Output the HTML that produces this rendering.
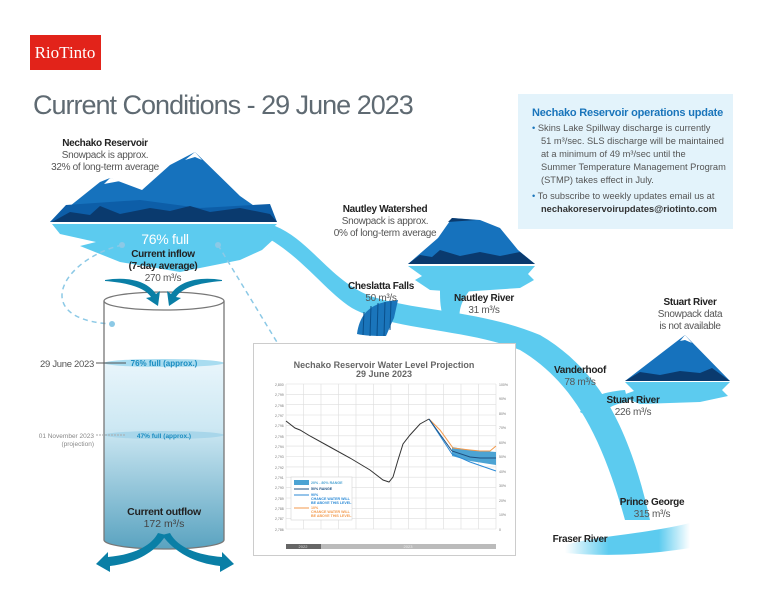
<!DOCTYPE html>
<html><head><meta charset="utf-8"><style>
html,body{margin:0;padding:0;background:#fff;}
svg{display:block;font-family:"Liberation Sans",sans-serif;}
</style></head><body>
<svg width="768" height="593" viewBox="0 0 768 593" xmlns="http://www.w3.org/2000/svg">
<defs>
<linearGradient id="wat" x1="0" y1="0" x2="0" y2="1">
<stop offset="0" stop-color="#e8f5fb"/><stop offset="0.35" stop-color="#cde8f3"/><stop offset="1" stop-color="#5aa3c0"/></linearGradient>
<linearGradient id="fr" x1="0" y1="0" x2="1" y2="0">
<stop offset="0" stop-color="#5ccbef" stop-opacity="0"/><stop offset="0.35" stop-color="#5ccbef"/><stop offset="0.75" stop-color="#5ccbef"/><stop offset="1" stop-color="#5ccbef" stop-opacity="0"/></linearGradient>
</defs>
<rect x="30" y="35" width="71" height="35" fill="#e2231a"/>
<text x="65" y="58" font-family="Liberation Serif,serif" font-size="17" fill="#fff" text-anchor="middle">RioTinto</text>
<text x="33" y="114" font-size="27" fill="#5f6a72" letter-spacing="-1">Current Conditions - 29 June 2023</text>

<rect x="518" y="94" width="215" height="135" fill="#e3f3fb"/>
<text font-size="11" fill="#1a75bb" font-weight="bold" x="532" y="116" letter-spacing="-0.2">Nechako Reservoir operations update</text>
<g font-size="9.3" fill="#555">
<text x="532" y="131"><tspan fill="#1a75bb">•</tspan> Skins Lake Spillway discharge is currently</text>
<text x="541" y="144">51 m³/sec. SLS discharge will be maintained</text>
<text x="541" y="157">at a minimum of 49 m³/sec until the</text>
<text x="541" y="170">Summer Temperature Management Program</text>
<text x="541" y="183">(STMP) takes effect in July.</text>
<text x="532" y="199"><tspan fill="#1a75bb">•</tspan> To subscribe to weekly updates email us at</text>
<text x="541" y="212" font-weight="bold" fill="#333">nechakoreservoirupdates@riotinto.com</text>
</g>

<!-- rivers -->
<g fill="#5ccbef">
<path d="M255 232 C300 250 330 300 360 312 C400 330 470 330 520 350 C570 380 600 430 625 520 L650 520 C630 430 600 370 540 335 C480 310 420 312 370 296 C330 280 310 240 275 226 Z"/>
<path d="M440 290 L470 290 C462 300 458 310 460 322 L445 322 C440 310 440 300 440 290Z"/>
<path d="M580 412 C588 398 600 392 625 390 L628 402 C612 404 602 410 598 422Z"/>
<path d="M565 545 C600 535 640 535 690 523 L690 548 C640 556 600 556 565 553Z" fill="url(#fr)"/>
<path d="M52 224 L277 224 L266 234 L275 238 L262 250 L240 260 L180 272 L120 262 L95 252 L80 246 L96 242 L60 234 Z"/>
<path d="M408 266 L535 266 L528 274 L534 280 L520 288 L460 292 L430 290 L415 280 L422 276Z"/>
<path d="M625 382 L730 382 L722 390 L728 396 L700 402 L640 404 L620 396 L634 391Z"/>
</g>
<!-- falls -->
<path d="M357 334 C360 312 372 302 398 300 L394 318 C390 326 388 332 386 336 C376 336 366 336 357 334Z" fill="#1a75bb"/>
<g stroke="#0a4f8a" stroke-width="1"><line x1="364" y1="312" x2="363" y2="335"/><line x1="371" y1="306" x2="370" y2="336"/><line x1="378" y1="303" x2="377" y2="336"/><line x1="385" y1="302" x2="384" y2="336"/><line x1="391" y1="301" x2="390" y2="330"/></g>

<!-- Nechako mountains -->
<path d="M50 222 L80 198 L100 182 L110 178 L142 190 L170 165 L195 152 L240 196 L277 222Z" fill="#1672bd"/>
<path d="M50 222 L66 205 L140 200 L200 208 L270 204 L277 222Z" fill="#0d5ea8"/>
<path d="M52 222 L70 212 L90 215 L100 206 L120 214 L150 208 L170 211 L190 206 L210 212 L240 208 L270 214 L277 222Z" fill="#0a3a6e"/>
<path d="M104 184 L110 178 L120 181 Z M185 160 L195 152 L202 160 L195 157Z" fill="#fff"/>
<!-- Nautley mountains -->
<path d="M408 264 L438 238 L452 218 L480 220 L500 228 L518 250 L535 264Z" fill="#1672bd"/>
<path d="M448 222 L452 218 L476 220 Z" fill="#0a3a6e"/>
<path d="M408 264 L420 255 L432 257 L440 250 L460 256 L480 252 L500 256 L520 252 L535 264Z" fill="#0a3a6e"/>
<!-- Stuart mountain -->
<path d="M625 381 L685 335 L730 381Z" fill="#1672bd"/>
<path d="M680 341 L685 335 L692 343 L685 340Z" fill="#fff"/>
<path d="M625 381 L640 372 L660 375 L680 371 L700 373 L712 368 L730 381Z" fill="#0a3a6e"/>

<!-- labels -->
<g font-size="10" fill="#555" text-anchor="middle" letter-spacing="-0.3">
<text x="105" y="146" font-weight="bold" fill="#222">Nechako Reservoir</text>
<text x="105" y="158">Snowpack is approx.</text>
<text x="105" y="170">32% of long-term average</text>
<text x="165" y="244" font-size="14" fill="#fff">76% full</text>
<text x="163" y="257" font-weight="bold" fill="#222">Current inflow</text>
<text x="163" y="269" font-weight="bold" fill="#222">(7-day average)</text>
<text x="163" y="281">270 m³/s</text>
<text x="385" y="212" font-weight="bold" fill="#222">Nautley Watershed</text>
<text x="385" y="224">Snowpack is approx.</text>
<text x="385" y="236">0% of long-term average</text>
<text x="381" y="289" font-weight="bold" fill="#222">Cheslatta Falls</text>
<text x="381" y="301">50 m³/s</text>
<text x="484" y="301" font-weight="bold" fill="#222">Nautley River</text>
<text x="484" y="313">31 m³/s</text>
<text x="690" y="305" font-weight="bold" fill="#222">Stuart River</text>
<text x="690" y="317">Snowpack data</text>
<text x="690" y="329">is not available</text>
<text x="580" y="373" font-weight="bold" fill="#222">Vanderhoof</text>
<text x="580" y="385">78 m³/s</text>
<text x="633" y="403" font-weight="bold" fill="#222">Stuart River</text>
<text x="633" y="415">226 m³/s</text>
<text x="652" y="505" font-weight="bold" fill="#222">Prince George</text>
<text x="652" y="517">315 m³/s</text>
<text x="580" y="542" font-weight="bold" fill="#222">Fraser River</text>
</g>

<g stroke="#8cc9e6" stroke-width="1.5" fill="none" stroke-dasharray="5,4">
<path d="M122 245 C60 260 30 320 112 324"/>
<path d="M218 245 L286 357"/>
</g>
<g fill="#8cc9e6"><circle cx="122" cy="245" r="3"/><circle cx="112" cy="324" r="3"/><circle cx="218" cy="245" r="3"/><circle cx="286" cy="357" r="3"/></g>

<!-- cylinder -->
<path d="M104 363 L104 540 A60 9 0 0 0 224 540 L224 363Z" fill="url(#wat)"/>
<ellipse cx="164" cy="363" rx="60" ry="4" fill="#a8dcf0"/>
<ellipse cx="164" cy="435" rx="60" ry="4" fill="#a8d6ea"/>
<path d="M104 301 L104 540 A60 9 0 0 0 224 540 L224 301" fill="none" stroke="#777" stroke-width="1.3"/>
<ellipse cx="164" cy="301" rx="60" ry="9" fill="#fff" stroke="#777" stroke-width="1.3"/>
<g fill="#0a7fa6">
<path d="M105 280 C130 276 148 282 156 294 L160 291 L158 306 L146 298 L151 297 C145 288 130 283 105 281Z"/>
<path d="M222 280 C197 276 179 282 171 294 L167 291 L169 306 L181 298 L176 297 C182 288 197 283 222 281Z"/>
<path d="M158 533 C150 548 130 555 108 557 L108 552 L96 564 L110 572 L110 566 C135 563 155 553 166 535Z"/>
<path d="M170 533 C178 548 198 555 222 557 L222 552 L234 564 L220 572 L220 566 C195 563 175 553 162 535Z"/>
</g>
<g text-anchor="middle">
<text x="164" y="366" font-size="8" font-weight="bold" fill="#1a8cc0">76% full (approx.)</text>
<text x="164" y="438" font-size="6.5" font-weight="bold" fill="#1a8cc0">47% full (approx.)</text>
<text x="164" y="515" font-size="10.5" font-weight="bold" fill="#222" letter-spacing="-0.3">Current outflow</text>
<text x="164" y="527" font-size="10.5" fill="#444">172 m³/s</text>
</g>
<text x="94" y="367" font-size="9.5" fill="#555" text-anchor="end" letter-spacing="-0.3">29 June 2023</text>
<line x1="96" y1="363" x2="126" y2="363" stroke="#555"/>
<text x="94" y="438" font-size="6.5" fill="#888" text-anchor="end">01 November 2023</text>
<text x="94" y="446" font-size="6.5" fill="#888" text-anchor="end">(projection)</text>
<line x1="96" y1="435" x2="126" y2="435" stroke="#aaa" stroke-dasharray="2,1"/>

<!-- chart panel -->
<rect x="253.5" y="343.5" width="262" height="212" fill="#fff" stroke="#ccc"/>
<text x="384" y="368" font-size="9" font-weight="bold" fill="#666" text-anchor="middle">Nechako Reservoir Water Level Projection</text>
<text x="384" y="377" font-size="9" font-weight="bold" fill="#666" text-anchor="middle">29 June 2023</text>
<g stroke="#ddd" stroke-width="0.6">
<line x1="286" y1="384" x2="496" y2="384"/><line x1="286" y1="394.4" x2="496" y2="394.4"/><line x1="286" y1="404.7" x2="496" y2="404.7"/><line x1="286" y1="415" x2="496" y2="415"/><line x1="286" y1="425.4" x2="496" y2="425.4"/><line x1="286" y1="435.8" x2="496" y2="435.8"/><line x1="286" y1="446.1" x2="496" y2="446.1"/><line x1="286" y1="456.5" x2="496" y2="456.5"/><line x1="286" y1="466.9" x2="496" y2="466.9"/><line x1="286" y1="477.2" x2="496" y2="477.2"/><line x1="286" y1="487.6" x2="496" y2="487.6"/><line x1="286" y1="498" x2="496" y2="498"/><line x1="286" y1="508.3" x2="496" y2="508.3"/><line x1="286" y1="518.7" x2="496" y2="518.7"/><line x1="286" y1="529" x2="496" y2="529"/>
<line x1="286" y1="384" x2="286" y2="529"/><line x1="303.5" y1="384" x2="303.5" y2="529"/><line x1="321" y1="384" x2="321" y2="529"/><line x1="338.5" y1="384" x2="338.5" y2="529"/><line x1="356" y1="384" x2="356" y2="529"/><line x1="373.5" y1="384" x2="373.5" y2="529"/><line x1="391" y1="384" x2="391" y2="529"/><line x1="408.5" y1="384" x2="408.5" y2="529"/><line x1="426" y1="384" x2="426" y2="529"/><line x1="443.5" y1="384" x2="443.5" y2="529"/><line x1="461" y1="384" x2="461" y2="529"/><line x1="478.5" y1="384" x2="478.5" y2="529"/><line x1="496" y1="384" x2="496" y2="529"/>
</g>
<g font-size="3.5" fill="#777">
<text x="275" y="386">2,800</text><text x="275" y="396">2,799</text><text x="275" y="407">2,798</text><text x="275" y="417">2,797</text><text x="275" y="427">2,796</text><text x="275" y="438">2,795</text><text x="275" y="448">2,794</text><text x="275" y="458">2,793</text><text x="275" y="469">2,792</text><text x="275" y="479">2,791</text><text x="275" y="489">2,790</text><text x="275" y="500">2,789</text><text x="275" y="510">2,788</text><text x="275" y="520">2,787</text><text x="275" y="531">2,786</text>
<text x="499" y="386">100%</text><text x="499" y="400">90%</text><text x="499" y="415">80%</text><text x="499" y="429">70%</text><text x="499" y="444">60%</text><text x="499" y="458">50%</text><text x="499" y="473">40%</text><text x="499" y="487">30%</text><text x="499" y="502">20%</text><text x="499" y="516">10%</text><text x="499" y="531">0</text>
</g>
<path d="M452 447 L470 450 L496 452 L496 465 L470 461 L452 456Z" fill="#4ca3d3"/>
<polyline points="429,419 440,430 453,448 470,450 480,451 490,451 496,446" fill="none" stroke="#f39a4c" stroke-width="1"/>
<polyline points="429,419 452,454 470,462 496,471" fill="none" stroke="#2b8ad6" stroke-width="1"/>
<polyline points="429,419 452,451 470,457 480,458 496,458" fill="none" stroke="#1d4f80" stroke-width="1"/>
<polyline points="286,421 295,428 300,430 310,436 330,447 350,458 370,470 383,480 389,482 393,477 398,460 403,444 410,435 420,424 429,419" fill="none" stroke="#333" stroke-width="1"/>
<rect x="291" y="477" width="61" height="43" fill="#fff" stroke="#ccc" stroke-width="0.5"/>
<rect x="294" y="480" width="15" height="5" fill="#4ca3d3"/>
<g font-size="3.6" font-weight="bold">
<text x="311" y="484" fill="#4ca3d3">20% - 80% RANGE</text>
<text x="311" y="490" fill="#1d4f80">50% RANGE</text>
<text x="311" y="496" fill="#2b8ad6">90%</text><text x="311" y="500" fill="#2b8ad6">CHANCE WATER WILL</text><text x="311" y="504" fill="#2b8ad6">BE ABOVE THIS LEVEL</text>
<text x="311" y="509" fill="#f39a4c">10%</text><text x="311" y="513" fill="#f39a4c">CHANCE WATER WILL</text><text x="311" y="517" fill="#f39a4c">BE ABOVE THIS LEVEL</text>
</g>
<line x1="294" y1="489" x2="309" y2="489" stroke="#1d4f80"/>
<line x1="294" y1="495" x2="309" y2="495" stroke="#2b8ad6"/>
<line x1="294" y1="508" x2="309" y2="508" stroke="#f39a4c"/>
<rect x="286" y="544" width="35" height="5" fill="#666"/>
<rect x="321" y="544" width="175" height="5" fill="#bbb"/>
<text x="303" y="548" font-size="4" fill="#ddd" text-anchor="middle">2022</text>
<text x="408" y="548" font-size="4" fill="#eee" text-anchor="middle">2023</text>
</svg>
</body></html>
